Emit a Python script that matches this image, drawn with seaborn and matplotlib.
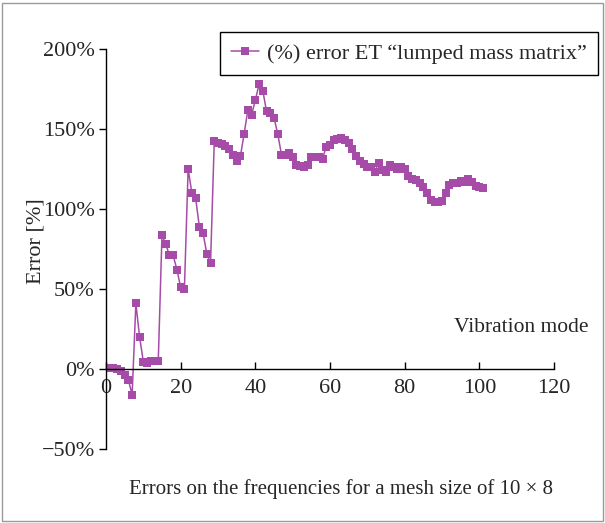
import numpy as np
import pandas as pd
import matplotlib
matplotlib.use("Agg")
import matplotlib.pyplot as plt
import seaborn as sns
from matplotlib.patches import Rectangle

# error (%) per vibration mode
error_pct = [
    0.5, 0.5, 0.5, 0, -1, -3.5, -7, -16, 41, 20,
    4.5, 3.5, 5, 5, 5, 84, 78, 71, 71, 62,
    51, 50, 125, 110, 107, 89, 85, 72, 66, 142.5,
    141.5, 140.5, 139.5, 137.5, 134, 130, 133, 147, 162, 159,
    168, 178, 174, 161, 160, 157, 147, 134, 134, 135,
    132.5, 127.5, 127, 126.5, 127.5, 132.5, 132.5, 132.5, 131.5, 139,
    140, 143, 144, 144.5, 143, 141, 137.5, 133, 130, 128,
    126.5, 126, 123, 129, 124.5, 123, 127.5, 126, 125, 126.5,
    125, 120.5, 119, 118, 116.5, 113.5, 110, 105.5, 104.6, 104.6,
    105, 109.8, 115, 116.4, 116.4, 117.7, 117.1, 118.6, 117.1, 114.4,
    113.5, 113,
]
modes = list(range(len(error_pct)))

x_ticks = [0, 20, 40, 60, 80, 100, 120]
y_ticks = [-50, 0, 50, 100, 150, 200]
y_tick_labels = ["\u221250%", "0%", "50%", "100%", "150%", "200%"]

series_label = "(%) error ET \u201clumped mass matrix\u201d"
purple = "#A64CA8"

df = pd.DataFrame({"mode": modes, "error": error_pct})

sns.set_style("ticks")
plt.rcParams["font.family"] = ["Liberation Serif", "DejaVu Serif"]

fig = plt.figure(figsize=(6.05, 5.23), dpi=100)
ax = fig.add_axes([106 / 605, 1 - 449 / 523, (554 - 106) / 605, 400 / 523])

sns.lineplot(data=df, x="mode", y="error", ax=ax, color=purple,
             marker="s", markersize=5.5, markeredgewidth=0, linewidth=1.1,
             label=series_label, legend=False)

ax.set_xlim(0, 120)
ax.set_ylim(-50, 200)
ax.set_xticks(x_ticks)
ax.set_yticks(y_ticks)
ax.set_yticklabels(y_tick_labels)
ax.tick_params(axis="x", direction="in", length=5, labelsize=16, pad=7,
               width=1, color="black")
ax.tick_params(axis="y", direction="out", length=5, labelsize=16, pad=3,
               width=1, color="black")
ax.set_xlabel("")
ax.set_ylabel("Error [%]", fontsize=16)
ax.yaxis.set_label_coords(-0.134, 0.52)

for s in ["top", "right"]:
    ax.spines[s].set_visible(False)
ax.spines["bottom"].set_position(("data", 0))
ax.spines["left"].set_linewidth(1)
ax.spines["bottom"].set_linewidth(1)
ax.spines["left"].set_color("black")
ax.spines["bottom"].set_color("black")

fig.text(521 / 605, 1 - 327 / 523, "Vibration mode",
         ha="center", va="center", fontsize=15.5)
fig.text(341 / 605, 1 - 489 / 523,
         "Errors on the frequencies for a mesh size of 10 \u00d7 8",
         ha="center", va="center", fontsize=15)

handles, labels = ax.get_legend_handles_labels()
leg = fig.legend(handles, labels, loc="upper right",
                 bbox_to_anchor=(598 / 605, 1 - 32 / 523),
                 fontsize=16, frameon=True, fancybox=False, numpoints=1,
                 handlelength=1.25, handletextpad=0.35, borderpad=0.5,
                 borderaxespad=0)
leg.get_frame().set_edgecolor("black")
leg.get_frame().set_linewidth(1)
leg.get_frame().set_alpha(1)

fig.patches.append(Rectangle((2 / 605, 2 / 523), 601 / 605, 518 / 523,
                             transform=fig.transFigure, fill=False,
                             edgecolor="#9a9a9a", linewidth=1))

fig.savefig("out.png", dpi=100)
